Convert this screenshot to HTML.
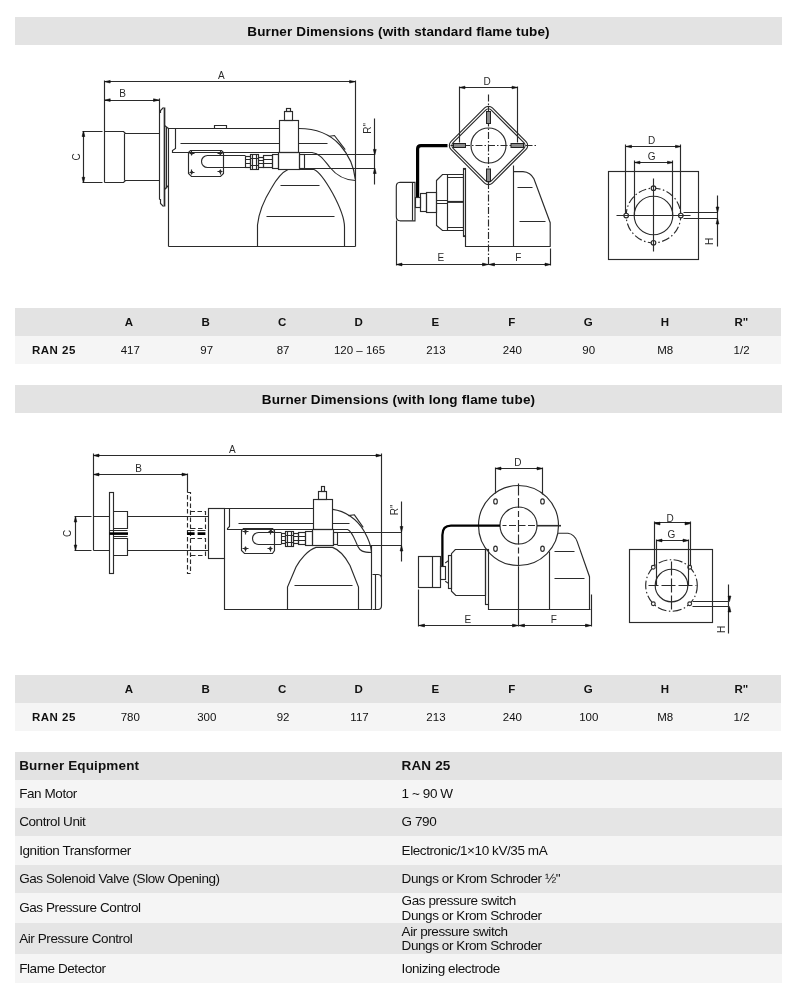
<!DOCTYPE html>
<html lang="en">
<head>
<meta charset="utf-8">
<title>Burner Dimensions</title>
<style>
html,body{margin:0;padding:0;background:#fff;}
html{filter:grayscale(1);}
body{width:800px;height:998px;position:relative;overflow:hidden;font-family:"Liberation Sans","DejaVu Sans",sans-serif;color:#111;}
.abs{position:absolute;}
.band{position:absolute;left:15px;width:767px;height:28px;background:#e3e3e3;text-align:center;font-weight:bold;font-size:13.5px;letter-spacing:0.14px;line-height:29.6px;overflow:hidden;color:#0a0a0a;white-space:nowrap;}
.dt{position:absolute;left:15px;width:765.5px;}
.dt .r{position:absolute;left:0;width:100%;height:28px;display:flex;}
.dt .r.h{top:0;background:#e3e3e3;font-weight:bold;}
.dt .r.d{top:28px;background:#f5f5f5;}
.dt .c{flex:1 1 0;text-align:center;font-size:11.5px;line-height:28px;white-space:nowrap;position:relative;left:-0.8px;top:0.4px;}
.dt .c.b{font-weight:bold;letter-spacing:0.5px;padding-left:1.5px;}
.eq{position:absolute;left:15px;width:767px;}
.eq .row{position:absolute;left:0;width:100%;}
.eq .k,.eq .v{position:absolute;top:0;height:100%;font-size:13.5px;letter-spacing:-0.42px;white-space:nowrap;display:flex;flex-direction:column;justify-content:center;line-height:14.7px;z-index:1;}
.eq .k{left:4.2px;padding-top:1px;box-sizing:border-box;}
.eq .v{left:386.6px;padding-top:1px;box-sizing:border-box;}
.eq .hd{font-weight:bold;letter-spacing:0.14px;}
svg{position:absolute;left:0;top:0;}
svg text{font-family:"Liberation Sans","DejaVu Sans",sans-serif;font-size:10px;fill:#2a2a2a;stroke:none;text-anchor:middle;}
svg .ah{fill:#111;stroke:#111;stroke-width:.6;stroke-linejoin:round;}
</style>
</head>
<body>
<div class="band" style="top:17px;">Burner Dimensions (with standard flame tube)</div>

<div class="dt" style="top:308px;height:56px;">
 <div class="r h"><div class="c"></div><div class="c">A</div><div class="c">B</div><div class="c">C</div><div class="c">D</div><div class="c">E</div><div class="c">F</div><div class="c">G</div><div class="c">H</div><div class="c">R"</div></div>
 <div class="r d"><div class="c b">RAN 25</div><div class="c">417</div><div class="c">97</div><div class="c">87</div><div class="c">120 – 165</div><div class="c">213</div><div class="c">240</div><div class="c">90</div><div class="c">M8</div><div class="c">1/2</div></div>
</div>

<div class="band" style="top:384.5px;">Burner Dimensions (with long flame tube)</div>

<div class="dt" style="top:675px;height:56px;">
 <div class="r h"><div class="c"></div><div class="c">A</div><div class="c">B</div><div class="c">C</div><div class="c">D</div><div class="c">E</div><div class="c">F</div><div class="c">G</div><div class="c">H</div><div class="c">R"</div></div>
 <div class="r d"><div class="c b">RAN 25</div><div class="c">780</div><div class="c">300</div><div class="c">92</div><div class="c">117</div><div class="c">213</div><div class="c">240</div><div class="c">100</div><div class="c">M8</div><div class="c">1/2</div></div>
</div>

<div class="eq" style="top:752px;height:231px;">
 <div class="row" style="top:0;height:27.7px;background:#e3e3e3;"><div class="k hd">Burner Equipment</div><div class="v hd">RAN 25</div></div>
 <div class="row" style="top:27.7px;height:28.3px;background:#f5f5f5;"><div class="k">Fan Motor</div><div class="v">1 ~ 90 W</div></div>
 <div class="row" style="top:56px;height:28.4px;background:#e5e5e5;"><div class="k">Control Unit</div><div class="v">G 790</div></div>
 <div class="row" style="top:84.4px;height:28.4px;background:#f5f5f5;"><div class="k">Ignition Transformer</div><div class="v">Electronic/1×10 kV/35 mA</div></div>
 <div class="row" style="top:112.8px;height:28.2px;background:#e5e5e5;"><div class="k">Gas Solenoid Valve (Slow Opening)</div><div class="v">Dungs or Krom Schroder ½"</div></div>
 <div class="row" style="top:141px;height:30.3px;background:#f5f5f5;"><div class="k">Gas Pressure Control</div><div class="v"><span>Gas pressure switch</span><span>Dungs or Krom Schroder</span></div></div>
 <div class="row" style="top:171.3px;height:30.9px;background:#e5e5e5;"><div class="k">Air Pressure Control</div><div class="v"><span>Air pressure switch</span><span>Dungs or Krom Schroder</span></div></div>
 <div class="row" style="top:202.2px;height:28.8px;background:#f5f5f5;"><div class="k">Flame Detector</div><div class="v">Ionizing electrode</div></div>
</div>

<svg width="800" height="998" viewBox="0 0 800 998" fill="none" stroke="#2b2b2b" stroke-width="1.15" stroke-linecap="butt" stroke-linejoin="miter">
<!--DRAW1-->
<g>
<path d="M 104.5 81.5 H 355.5 M 104.5 80.5 V 182.5 M 355.5 80.5 V 246.5"/>
<polygon class="ah" points="104.7,81.7 110.2,80.4 110.2,83.0"/>
<polygon class="ah" points="355.1,81.7 349.6,80.4 349.6,83.0"/>
<path d="M 104.5 100.5 H 159.5 M 159.5 98.5 V 199.5"/>
<polygon class="ah" points="104.7,100.1 110.2,98.8 110.2,101.4"/>
<polygon class="ah" points="159.0,100.1 153.5,98.8 153.5,101.4"/>
<path d="M 82.5 131.5 H 102.5 M 82.5 182.5 H 102.5 M 83.5 131.5 V 182.5"/>
<polygon class="ah" points="83.4,131.0 82.1,136.5 84.8,136.5"/>
<polygon class="ah" points="83.4,182.8 82.1,177.3 84.8,177.3"/>
<text class="lb" x="221.3" y="79.3">A</text>
<text class="lb" x="122.5" y="97.4">B</text>
<text class="lb" transform="translate(79.6 157.0) rotate(-90)">C</text>
<path d="M 104.5 131.5 H 123.5 L 125.5 133.5 H 159.5 M 104.5 182.5 H 123.5 L 125.5 180.5 H 159.5 M 124.5 133.5 V 180.5"/>
<path d="M 159.5 112.5 H 160.5 V 110.5 L 163.5 107.5 M 159.5 199.5 H 160.5 V 203.5 L 163.5 206.5"/>
<path d="M 164.5 107.5 V 206.5" stroke-width="1.7"/>
<path d="M 164.5 125.5 L 168.5 128.5 M 166.5 127.5 V 188.5 M 168.5 185.5 L 164.5 189.5"/>
<path d="M 168.5 246.5 V 128.5 H 279.5 M 168.5 246.5 H 355.5"/>
<path d="M 175.5 128.5 V 148.5 L 172.5 150.5 V 152.5 H 279.5 M 180.5 143.5 H 279.5 M 298.5 143.5 H 327.5"/>
<path d="M 214.5 128.5 V 125.5 H 226.5 V 128.5"/>
<path d="M 190.5 150.5 H 221.5 L 223.5 152.5 V 173.5 L 220.5 176.5 H 191.5 L 188.5 173.5 V 152.5 Z"/>
<circle cx="191.8" cy="153.3" r="1.4" fill="#222" stroke="none"/><path d="M 189.5 153.5 H 194.5 M 191.5 150.5 V 155.5"/>
<circle cx="220.2" cy="153.3" r="1.4" fill="#222" stroke="none"/><path d="M 217.5 153.5 H 222.5 M 220.5 150.5 V 155.5"/>
<circle cx="191.8" cy="172.3" r="1.4" fill="#222" stroke="none"/><path d="M 189.5 172.5 H 194.5 M 191.5 169.5 V 174.5"/>
<circle cx="220.2" cy="171.6" r="1.4" fill="#222" stroke="none"/><path d="M 217.5 171.5 H 222.5 M 220.5 169.5 V 174.5"/>
<path d="M 245.5 155.5 H 207.5 A 5.95 5.95 0 0 0 207.5 167.5 H 245.5"/>
<rect x="245.5" y="156.5" width="5.0" height="11.0"/>
<path d="M 245.5 159.5 H 250.5 M 245.5 163.5 H 250.5"/>
<rect x="250.5" y="154.5" width="8.0" height="15.0"/>
<path d="M 250.5 158.5 H 258.5 M 250.5 165.5 H 258.5 M 252.5 154.5 V 169.5 M 256.5 154.5 V 169.5"/>
<rect x="258.5" y="157.5" width="5.0" height="10.0"/>
<path d="M 258.5 160.5 H 263.5 M 258.5 163.5 H 263.5"/>
<rect x="263.5" y="155.5" width="9.0" height="12.0"/>
<path d="M 263.5 159.5 H 272.5 M 263.5 163.5 H 272.5"/>
<rect x="272.5" y="154.5" width="6.0" height="14.0"/>
<rect x="279.5" y="120.5" width="19.0" height="32.0"/>
<rect x="278.5" y="152.5" width="21.0" height="17.0"/>
<rect x="299.5" y="154.5" width="5.0" height="14.0"/>
<rect x="284.5" y="111.5" width="8.0" height="9.0"/>
<rect x="286.5" y="108.5" width="4.0" height="3.0"/>
<path d="M 304.5 154.5 H 374.5 M 304.5 168.5 H 374.5"/>
<path d="M298.7 128.5 C315 128.5 330 134 340 145 C348 154 354 166 355.3 179.5"/>
<path d="M329.4 136.2 L334.4 135.5 L345.2 149.6"/>
<path d="M299.5 152.5 H312 C320 153.5 324 160 330 167.5 C336 175 343 180 355.3 180.5"/>
<path d="M257.5 246.5 V225 C258.6 214 264 200 271.5 188 C276 180 281.5 172.5 288 169.5 H314 C319 171.5 324 178 332.5 193 C339 205 344.5 217 344.5 227 V246.5"/>
<path d="M 280.5 185.5 H 319.5 M 266.5 216.5 H 334.5"/>
<path d="M 374.5 118.5 V 184.5"/>
<polygon class="ah" points="374.8,154.9 373.4,149.4 376.2,149.4"/>
<polygon class="ah" points="374.8,168.0 373.4,173.5 376.2,173.5"/>
<text class="lb" transform="translate(370.6 128.3) rotate(-90)">R"</text>
</g>
<!--/DRAW1-->
<!--DRAW2-->
<g>
<path d="M 488.5 94.5 V 264.5" stroke-dasharray="7 2 1.5 2"/>
<path d="M 450.5 145.5 H 537.5" stroke-dasharray="7 2 1.5 2"/>
<circle cx="488.5" cy="145.5" r="17.5"/>
<rect x="459.20" y="116.20" width="58.60" height="58.60" rx="5.5" transform="rotate(45 488.5 145.5)"/>
<rect x="461.50" y="118.50" width="54.00" height="54.00" rx="4.0" transform="rotate(45 488.5 145.5)"/>
<rect x="453.5" y="143.5" width="12.0" height="4.0" fill="#8a8a8a" stroke="#222" stroke-width="1"/>
<rect x="511.0" y="143.5" width="12.5" height="4.0" fill="#8a8a8a" stroke="#222" stroke-width="1"/>
<rect x="486.5" y="111.5" width="4.0" height="12.0" fill="#8a8a8a" stroke="#222" stroke-width="1"/>
<rect x="486.5" y="169.0" width="4.0" height="12.5" fill="#8a8a8a" stroke="#222" stroke-width="1"/>
<path d="M 459.5 87.5 H 517.5 M 459.5 86.5 V 142.5 M 517.5 86.5 V 142.5"/>
<polygon class="ah" points="459.5,87.5 465.0,86.2 465.0,88.8"/>
<polygon class="ah" points="517.5,87.5 512.0,86.2 512.0,88.8"/>
<text class="lb" x="487.0" y="85.0">D</text>
<path d="M447.5 145.7 H421 Q417.6 145.7 417.6 149 V197" stroke="#000" stroke-width="3.2" fill="none"/>
<path d="M415 182.3 H400 Q396.3 182.6 396.3 186.5 V216.5 Q396.3 220.6 400 220.8 H415 Z"/>
<path d="M 412.5 182.5 V 220.5"/>
<rect x="415.5" y="197.5" width="5.0" height="10.0"/>
<rect x="420.5" y="193.5" width="6.0" height="18.0"/>
<rect x="426.5" y="192.5" width="10.0" height="20.0"/>
<path d="M 436.5 180.5 L 442.5 174.5 H 463.5 V 230.5 H 442.5 L 436.5 225.5 Z"/>
<path d="M 447.5 174.5 V 230.5 M 447.5 177.5 H 463.5 M 447.5 227.5 H 463.5 M 436.5 200.5 H 447.5 M 436.5 203.5 H 447.5"/>
<path d="M447.6 201.9 H463.3" stroke-width="2"/>
<rect x="463.5" y="168.5" width="2.0" height="68.0"/>
<path d="M 465.5 236.5 V 246.5 H 550.5"/>
<path d="M 513.5 165.5 V 246.5"/>
<path d="M513.9 171.6 H523 C529 172 532 175 533.9 178.8 L550.2 222.7 V246.4"/>
<path d="M 517.5 187.5 H 532.5 M 519.5 221.5 H 545.5"/>
<path d="M 396.5 264.5 H 550.5 M 396.5 220.5 V 265.5 M 550.5 248.5 V 265.5"/>
<polygon class="ah" points="396.5,264.5 402.0,263.1 402.0,265.9"/>
<polygon class="ah" points="488.0,264.5 482.5,263.1 482.5,265.9"/>
<polygon class="ah" points="489.0,264.5 494.5,263.1 494.5,265.9"/>
<polygon class="ah" points="550.5,264.5 545.0,263.1 545.0,265.9"/>
<text class="lb" x="440.8" y="261.2">E</text>
<text class="lb" x="518.2" y="261.2">F</text>
</g>
<!--/DRAW2-->
<!--DRAW3-->
<g>
<rect x="608.5" y="171.5" width="90.0" height="88.0"/>
<circle cx="653.5" cy="215.5" r="19.3"/>
<circle cx="653.5" cy="215.5" r="27.3" stroke-dasharray="8 2.5 1.5 2.5" stroke-dashoffset="3"/>
<circle cx="626.2" cy="215.5" r="2.3" fill="#fff"/>
<circle cx="680.8" cy="215.5" r="2.3" fill="#fff"/>
<circle cx="653.5" cy="188.2" r="2.3" fill="#fff"/>
<circle cx="653.5" cy="242.8" r="2.3" fill="#fff"/>
<path d="M 653.5 178.5 V 251.5 M 616.5 215.5 H 690.5"/>
<path d="M 625.5 146.5 H 680.5 M 625.5 144.5 V 213.5 M 680.5 144.5 V 213.5"/>
<polygon class="ah" points="626.0,146.5 631.5,145.2 631.5,147.8"/>
<polygon class="ah" points="681.0,146.5 675.5,145.2 675.5,147.8"/>
<path d="M 634.5 162.5 H 672.5 M 634.5 160.5 V 215.5 M 672.5 160.5 V 215.5"/>
<polygon class="ah" points="634.5,162.5 640.0,161.2 640.0,163.8"/>
<polygon class="ah" points="673.0,162.5 667.5,161.2 667.5,163.8"/>
<text class="lb" x="651.6" y="143.6">D</text>
<text class="lb" x="651.6" y="160.2">G</text>
<path d="M 683.5 212.5 H 717.5 M 683.5 218.5 H 717.5 M 717.5 195.5 V 246.5"/>
<polygon class="ah" points="717.5,212.5 716.1,207.0 718.9,207.0"/>
<polygon class="ah" points="717.5,218.5 716.1,224.0 718.9,224.0"/>
<text class="lb" transform="translate(713.2 241.4) rotate(-90)">H</text>
</g>
<!--/DRAW3-->
<!--DRAW4-->
<g>
<path d="M 93.5 455.5 H 381.5 M 93.5 453.5 V 550.5 M 381.5 453.5 V 577.5"/>
<polygon class="ah" points="93.5,455.5 99.0,454.1 99.0,456.9"/>
<polygon class="ah" points="381.5,455.5 376.0,454.1 376.0,456.9"/>
<path d="M 93.5 474.5 H 187.5 M 187.5 473.5 V 492.5"/>
<polygon class="ah" points="93.5,474.5 99.0,473.1 99.0,475.9"/>
<polygon class="ah" points="187.5,474.5 182.0,473.1 182.0,475.9"/>
<path d="M 74.5 516.5 H 91.5 M 74.5 550.5 H 91.5 M 75.5 516.5 V 550.5"/>
<polygon class="ah" points="75.5,516.5 74.2,522.0 76.8,522.0"/>
<polygon class="ah" points="75.5,550.5 74.2,545.0 76.8,545.0"/>
<text class="lb" x="232.4" y="453.0">A</text>
<text class="lb" x="138.7" y="472.2">B</text>
<text class="lb" transform="translate(71.1 533.4) rotate(-90)">C</text>
<path d="M 93.5 516.5 H 109.5 M 127.5 516.5 H 208.5 M 93.5 550.5 H 109.5 M 127.5 550.5 H 208.5"/>
<rect x="109.5" y="492.5" width="4.0" height="81.0"/>
<path d="M 113.5 511.5 H 127.5 V 528.5 H 113.5 M 113.5 538.5 H 127.5 V 555.5 H 113.5"/>
<path d="M 109.5 530.5 H 127.5 M 113.5 536.5 H 127.5"/>
<path d="M109.5 533.6 H128" stroke="#000" stroke-width="2.6"/>
<rect x="187.5" y="492.5" width="3.0" height="81.0" stroke-dasharray="4.5 2.5"/>
<path d="M 190.5 511.5 H 205.5 V 528.5 H 190.5 M 190.5 538.5 H 205.5 V 555.5 H 190.5" stroke-dasharray="4.5 2.5"/>
<path d="M187 533.6 H194.6 M197.6 533.6 H205.4" stroke="#000" stroke-width="2.6"/>
<path d="M 187.5 530.5 H 194.5 M 197.5 530.5 H 205.5"/>
<rect x="208.5" y="508.5" width="16.0" height="50.0"/>
<path d="M 224.5 508.5 H 313.5 M 224.5 558.5 V 609.5 H 371.5 V 545.5"/>
<path d="M 229.5 508.5 V 526.5 L 227.5 528.5 V 529.5 H 313.5 M 238.5 523.5 H 313.5 M 332.5 523.5 H 349.5"/>
<path d="M 243.5 528.5 H 272.5 L 274.5 530.5 V 550.5 L 272.5 553.5 H 244.5 L 241.5 550.5 V 530.5 Z"/>
<circle cx="245.5" cy="531.6" r="1.4" fill="#222" stroke="none"/><path d="M 242.5 531.5 H 248.5 M 245.5 529.5 V 534.5"/>
<circle cx="270.8" cy="531.4" r="1.4" fill="#222" stroke="none"/><path d="M 268.5 531.5 H 273.5 M 270.5 528.5 V 534.5"/>
<circle cx="245.5" cy="548.7" r="1.4" fill="#222" stroke="none"/><path d="M 242.5 548.5 H 248.5 M 245.5 546.5 V 551.5"/>
<circle cx="270.3" cy="548.7" r="1.4" fill="#222" stroke="none"/><path d="M 267.5 548.5 H 272.5 M 270.5 546.5 V 551.5"/>
<path d="M 281.5 532.5 H 258.5 A 5.65 5.65 0 0 0 258.5 544.5 H 281.5"/>
<rect x="281.5" y="533.5" width="4.0" height="10.0"/>
<path d="M 281.5 536.5 H 285.5 M 281.5 540.5 H 285.5"/>
<rect x="285.5" y="531.5" width="8.0" height="15.0"/>
<path d="M 285.5 535.5 H 293.5 M 285.5 542.5 H 293.5 M 287.5 531.5 V 546.5 M 291.5 531.5 V 546.5"/>
<rect x="293.5" y="533.5" width="5.0" height="10.0"/>
<path d="M 293.5 536.5 H 298.5 M 293.5 540.5 H 298.5"/>
<rect x="298.5" y="532.5" width="7.0" height="12.0"/>
<path d="M 298.5 536.5 H 305.5 M 298.5 540.5 H 305.5"/>
<rect x="305.5" y="531.5" width="7.0" height="14.0"/>
<rect x="313.5" y="499.5" width="19.0" height="30.0"/>
<rect x="312.5" y="529.5" width="21.0" height="16.0"/>
<rect x="333.5" y="532.5" width="4.0" height="12.0"/>
<rect x="318.5" y="491.5" width="8.0" height="8.0"/>
<rect x="321.5" y="486.5" width="3.0" height="5.0"/>
<path d="M 337.5 532.5 H 401.5 M 337.5 545.5 H 401.5"/>
<path d="M332.6 509.4 C345 511 357 519 364 531 C368 538 371 545 371.5 552"/>
<path d="M348.3 515.6 L354.4 514.8 L363.2 527.4"/>
<path d="M333.2 529.5 H347.6 C352 531 354 538 357.9 546.5 C360 551 363 552.3 371.5 552.5"/>
<path d="M287.5 609.5 V587 L296 567 C300 559.5 308 550 316 547.4 H332.5 C340 550 346 558 350 565.5 L358.5 587 V609.5"/>
<path d="M 294.5 585.5 H 352.5"/>
<path d="M372.5 574.5 H378 Q381.5 574.8 381.5 578.5 V605.5 Q381.5 609.3 378 609.5 H372.5"/>
<path d="M 375.5 574.5 V 609.5"/>
<path d="M 401.5 501.5 V 561.5"/>
<polygon class="ah" points="401.5,532.0 400.1,526.5 402.9,526.5"/>
<polygon class="ah" points="401.5,545.5 400.1,551.0 402.9,551.0"/>
<text class="lb" transform="translate(398.2 509.8) rotate(-90)">R"</text>
</g>
<!--/DRAW4-->
<!--DRAW5-->
<g>
<circle cx="518.5" cy="525.5" r="40"/>
<circle cx="518.5" cy="525.5" r="18.5"/>
<ellipse cx="495.5" cy="501.4" rx="1.8" ry="2.6"/>
<ellipse cx="495.5" cy="548.7" rx="1.8" ry="2.6"/>
<ellipse cx="542.5" cy="501.4" rx="1.8" ry="2.6"/>
<ellipse cx="542.5" cy="548.7" rx="1.8" ry="2.6"/>
<path d="M 518.5 483.5 V 566.5" stroke-dasharray="12 2.5 10 3 6 3"/>
<path d="M 518.5 566.5 V 626.5"/>
<path d="M 502.5 525.5 H 537.5" stroke-dasharray="7 2.5" stroke-dashoffset="3"/>
<path d="M537 525.7 H561" stroke-width="1.6"/>
<path d="M 495.5 468.5 H 542.5 M 495.5 467.5 V 493.5 M 542.5 467.5 V 494.5"/>
<polygon class="ah" points="495.5,468.5 501.0,467.1 501.0,469.9"/>
<polygon class="ah" points="542.5,468.5 537.0,467.1 537.0,469.9"/>
<text class="lb" x="517.8" y="466.0">D</text>
<path d="M500 525.7 H451 Q442.4 525.7 442.4 535 V566.2" stroke="#000" stroke-width="2.3"/>
<rect x="418.5" y="556.5" width="22.0" height="31.0"/>
<path d="M 432.5 556.5 V 587.5"/>
<rect x="440.5" y="566.5" width="5.0" height="13.0"/>
<path d="M445.2 563 L448.8 560.4 M445.2 581.2 L448.8 583.4"/>
<path d="M451.5 553.6 L455.3 549.5 H485.5 V595.5 H455.8 L451.5 591.2 Z"/>
<rect x="448.5" y="555.5" width="3.0" height="33.0"/>
<rect x="485.5" y="549.5" width="3.0" height="55.0"/>
<path d="M 488.5 604.5 V 609.5 H 590.5"/>
<path d="M 549.5 551.5 V 609.5"/>
<path d="M558.1 533.2 H568 C573 534 575.5 537 577.1 541.4 L589.5 576.7 V609.6"/>
<path d="M 554.5 551.5 H 574.5 M 554.5 578.5 H 584.5"/>
<path d="M 418.5 625.5 H 591.5 M 418.5 589.5 V 626.5 M 591.5 594.5 V 626.5"/>
<polygon class="ah" points="419.0,625.5 424.5,624.1 424.5,626.9"/>
<polygon class="ah" points="518.0,625.5 512.5,624.1 512.5,626.9"/>
<polygon class="ah" points="519.0,625.5 524.5,624.1 524.5,626.9"/>
<polygon class="ah" points="591.0,625.5 585.5,624.1 585.5,626.9"/>
<text class="lb" x="467.9" y="622.7">E</text>
<text class="lb" x="553.9" y="622.7">F</text>
</g>
<!--/DRAW5-->
<!--DRAW6-->
<g>
<rect x="629.5" y="549.5" width="83.0" height="73.0"/>
<circle cx="671.5" cy="585.5" r="16.3"/>
<circle cx="671.5" cy="585.5" r="25.8" stroke-dasharray="9 2.5 1.5 2.5" stroke-dashoffset="1"/>
<circle cx="653.3" cy="567.3" r="1.9" fill="#fff"/>
<circle cx="653.3" cy="603.7" r="1.9" fill="#fff"/>
<circle cx="689.7" cy="567.3" r="1.9" fill="#fff"/>
<circle cx="689.7" cy="603.7" r="1.9" fill="#fff"/>
<path d="M 671.5 561.5 V 610.5" stroke-dasharray="14 3"/>
<path d="M 648.5 585.5 H 696.5" stroke-dasharray="14 3" stroke-dashoffset="4"/>
<path d="M 654.5 522.5 H 690.5 M 654.5 521.5 V 565.5 M 690.5 521.5 V 565.5"/>
<polygon class="ah" points="654.5,523.5 660.0,522.1 660.0,524.9"/>
<polygon class="ah" points="690.5,523.5 685.0,522.1 685.0,524.9"/>
<path d="M 656.5 540.5 H 688.5 M 656.5 539.5 V 585.5 M 688.5 539.5 V 585.5"/>
<polygon class="ah" points="656.5,540.5 662.0,539.1 662.0,541.9"/>
<polygon class="ah" points="688.5,540.5 683.0,539.1 683.0,541.9"/>
<text class="lb" x="670.1" y="521.6">D</text>
<text class="lb" x="671.4" y="538.2">G</text>
<path d="M 692.5 601.5 H 728.5 M 692.5 606.5 H 728.5 M 728.5 584.5 V 633.5"/>
<polygon class="ah" points="729.5,601.5 728.1,596.0 730.9,596.0"/>
<polygon class="ah" points="729.5,606.5 728.1,612.0 730.9,612.0"/>
<text class="lb" transform="translate(725.4 629.5) rotate(-90)">H</text>
</g>
<!--/DRAW6-->
</svg>
</body>
</html>
